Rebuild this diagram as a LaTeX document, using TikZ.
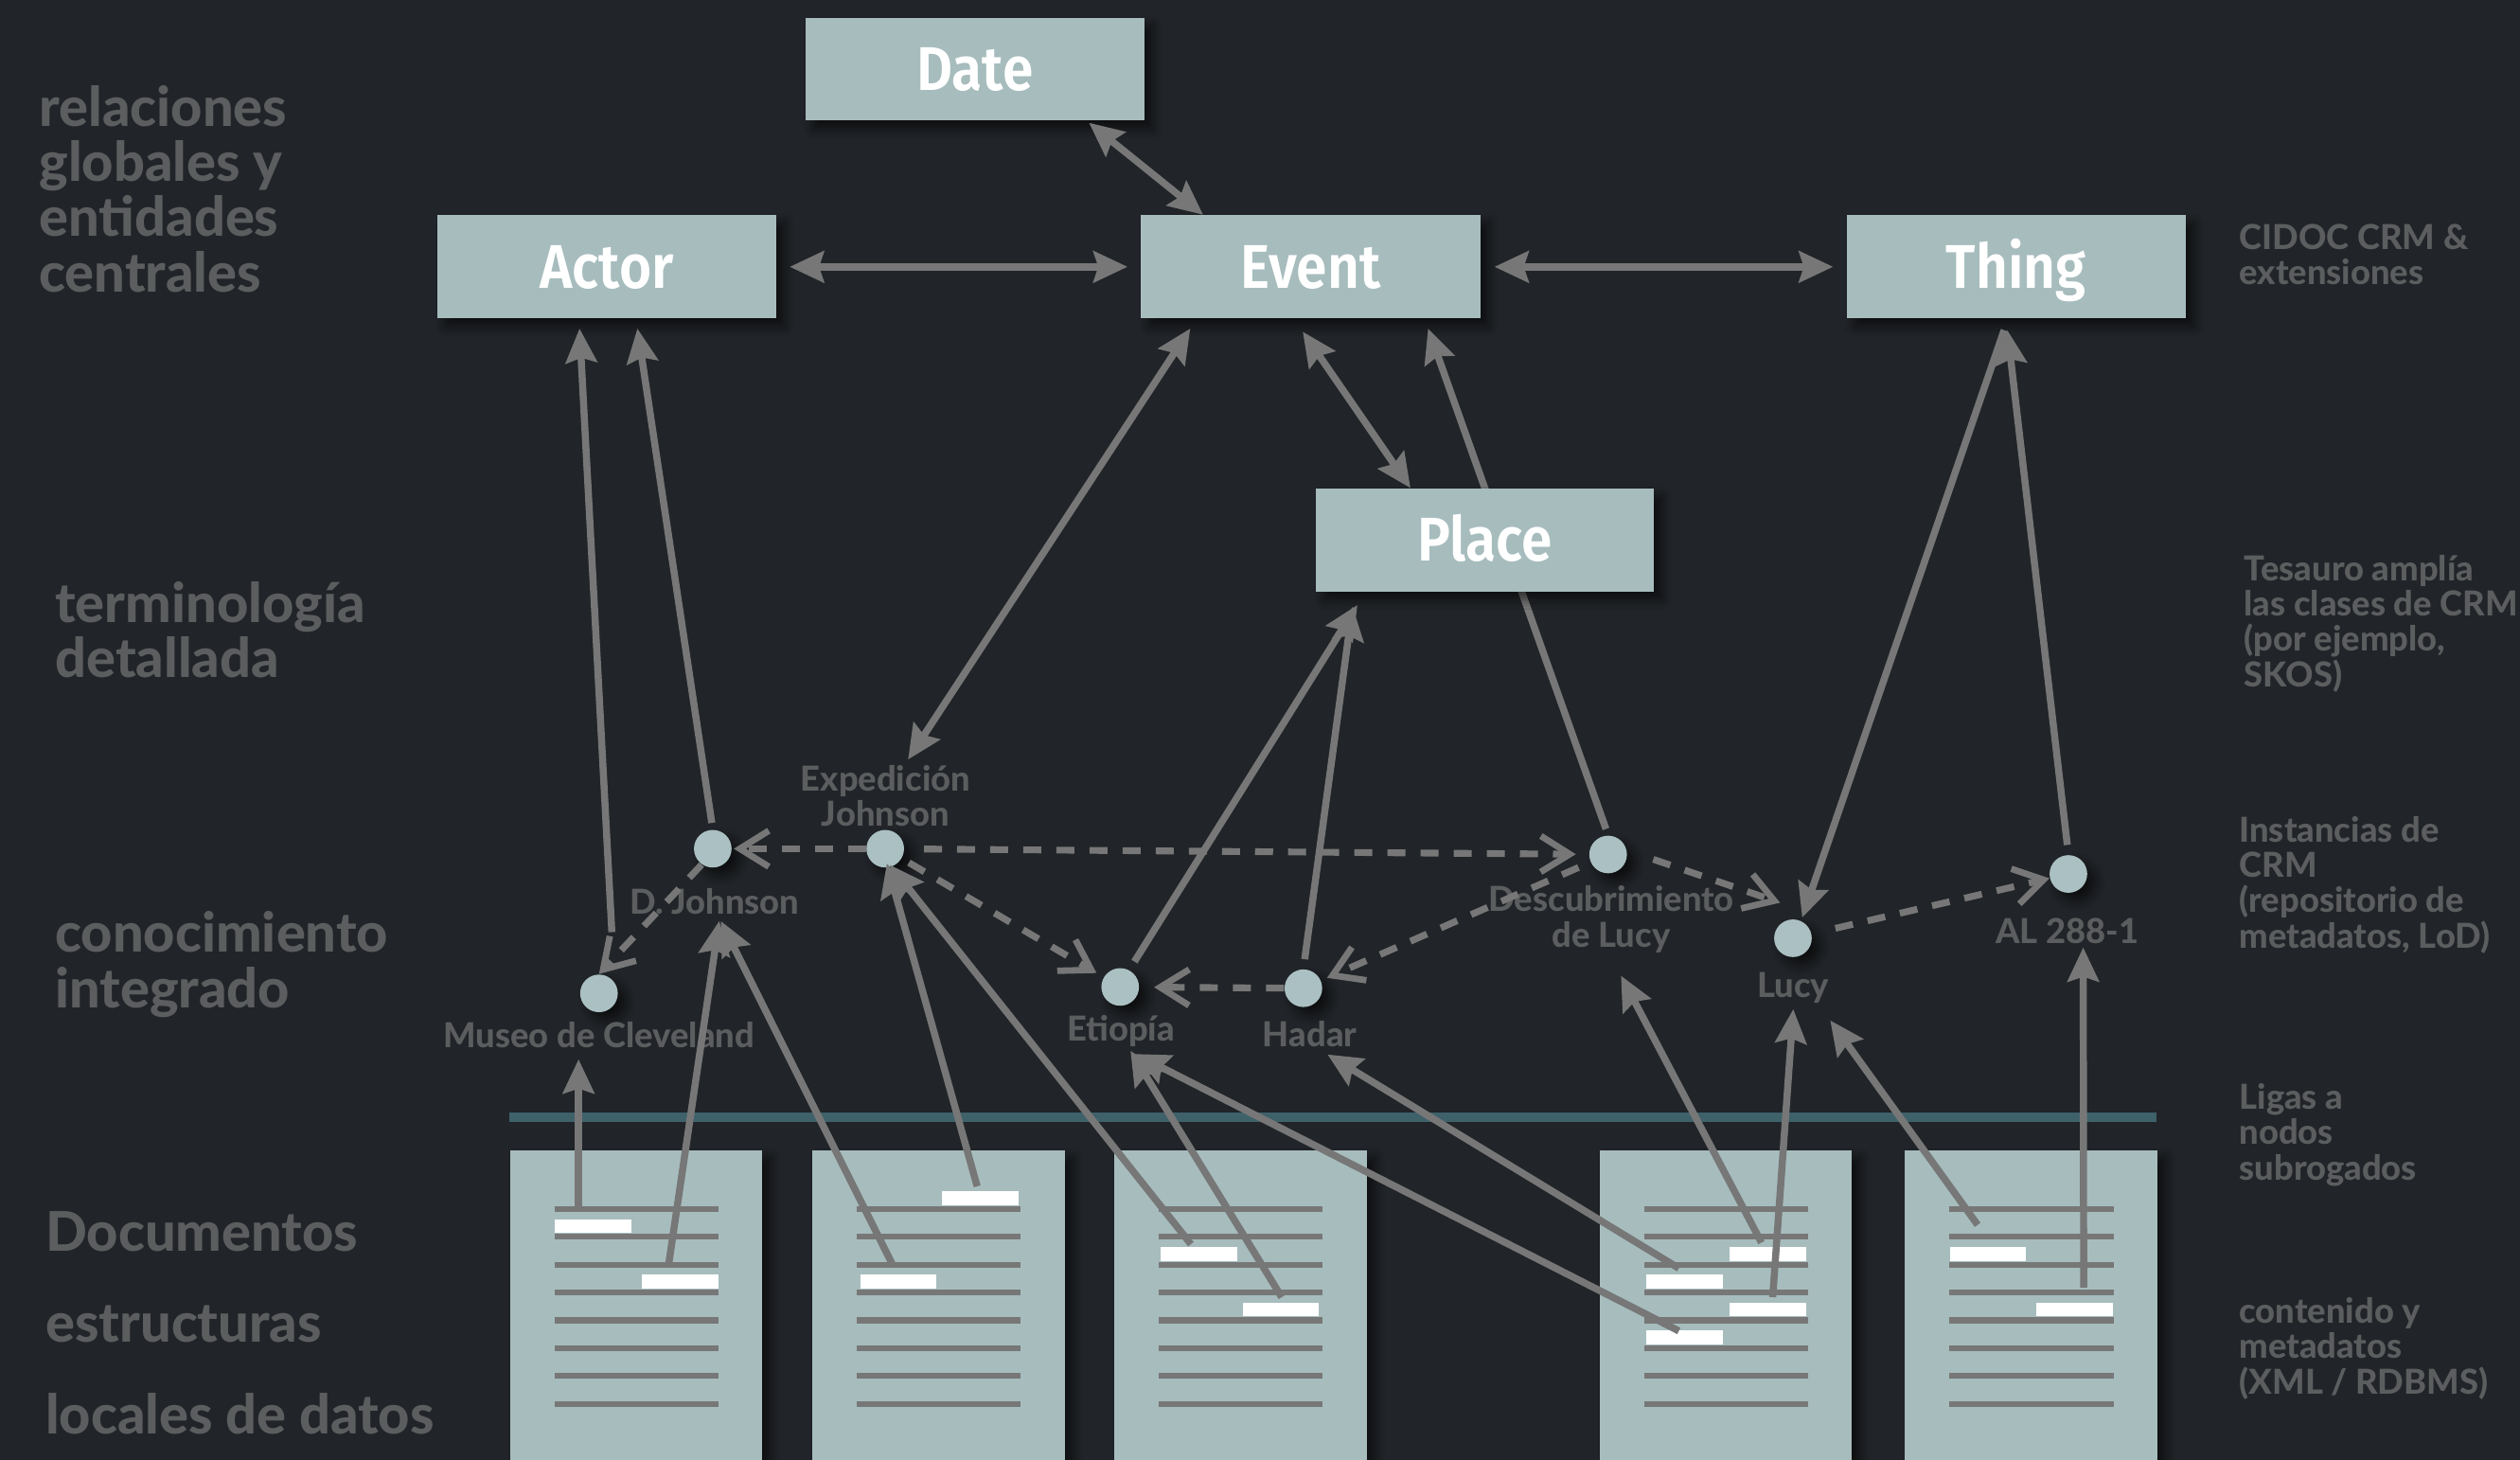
\documentclass[tikz,border=0pt]{standalone}
\usepackage{fontspec}
\setmainfont{Lato}
\newfontfamily\labelfont{Lato Heavy}
\newfontfamily\boxfont[FakeStretch=0.9]{Fira Sans SemiBold}
\usetikzlibrary{arrows.meta,calc,shadows.blur}

\definecolor{bgcol}{HTML}{212428}
\definecolor{boxfill}{HTML}{A7BCBD}
\definecolor{instfill}{HTML}{AAC0C2}
\definecolor{linkgray}{HTML}{777777}
\definecolor{labelgray}{HTML}{5C5D5F}
\definecolor{tealline}{HTML}{3F616A}

\tikzset{
  softshadow/.style={blur shadow={shadow xshift=2.5pt, shadow yshift=-2.5pt,
      shadow blur radius=3pt, shadow opacity=60}},
  classbox/.style={rectangle, fill=boxfill, softshadow, minimum width=105.5pt,
    minimum height=32pt, inner sep=0pt, text=white,
    font=\boxfont\fontsize{19.2}{20}\selectfont, text height=13.2pt, text depth=0pt},
  doc/.style={rectangle, fill=boxfill, softshadow, anchor=north west,
    minimum width=78.5pt, minimum height=96.5pt, inner sep=0pt},
  bar/.style={rectangle, fill=white, minimum width=23.8pt, minimum height=4.3pt, inner sep=0pt},
  inst/.style={circle, fill=instfill, softshadow, minimum size=11.7pt, inner sep=0pt},
  instlabel/.style={text=labelgray, font=\labelfont\fontsize{10.7}{11}\selectfont,
    align=center, inner sep=0pt},
  sidelabel/.style={instlabel, align=left, anchor=west},
  biglabel/.style={text=labelgray, font=\labelfont\fontsize{17}{17.15}\selectfont,
    align=left, anchor=west, inner sep=0pt},
  link/.style={draw=linkgray, line width=2.2pt,
    >={Stealth[length=10.6pt, width=9.7pt, inset=1.5pt]}, ->},
  bilink/.style={link, <->},
  dashlink/.style={draw=linkgray, line width=2.1pt, dash pattern=on 5.6pt off 4.7pt,
    -{Straight Barb[length=9pt, width=11.2pt, line width=2pt]}},
  docline/.style={draw=linkgray, line width=1.8pt},
}

\begin{document}
\begin{tikzpicture}[x=0.5pt, y=-0.5pt]
  \useasboundingbox (0,0) rectangle (1568,908);
  \fill[bgcol] (0,0) rectangle (1568,908);

  % capa de documentos
  \draw[tealline, line width=3.1pt] (317,695) -- (1342,695);
  \node[doc] (doc1) at (317,715) {};
  \node[doc] (doc2) at (505,715) {};
  \node[doc] (doc3) at (693,715) {};
  \node[doc] (doc4) at (995,715) {};
  \node[doc] (doc5) at (1185,715) {};
  \foreach \L in {317,505,693,995,1185}
    \foreach \k in {0,...,7}
      \draw[docline] (\L+28,752.2+17.3*\k) -- (\L+130,752.2+17.3*\k);
  \node[bar] (b1a) at (369,762.7) {};
  \node[bar] (b1b) at (423,797.3) {};
  \node[bar] (b2a) at (610,745.4) {};
  \node[bar] (b2b) at (559,797.3) {};
  \node[bar] (b3a) at (746,780) {};
  \node[bar] (b3b) at (797,814.6) {};
  \node[bar] (b4a) at (1100,780) {};
  \node[bar] (b4b) at (1048,797.3) {};
  \node[bar] (b4c) at (1100,814.6) {};
  \node[bar] (b4d) at (1048,831.9) {};
  \node[bar] (b5a) at (1237,780) {};
  \node[bar] (b5b) at (1291,814.6) {};

  % clases CRM
  \node[classbox] (date) at (606.5,43) {Date};
  \node[classbox] (actor) at (377.5,166) {Actor};
  \node[classbox] (event) at (815.5,166) {Event};
  \node[classbox] (thing) at (1254.5,166) {Thing};

  % instancias
  \node[inst] (djohnson) at (443.5,528) {};
  \node[inst] (expedicion) at (550.8,528) {};
  \node[inst] (museo) at (372.7,618) {};
  \node[inst] (etiopia) at (697,614) {};
  \node[inst] (hadar) at (811,614.8) {};
  \node[inst] (descub) at (1000.6,531.6) {};
  \node[inst] (lucy) at (1115.6,583.7) {};
  \node[inst] (al) at (1287,543.7) {};
  \node[instlabel] (expl) at (551,495) {Expedición\\Johnson};
  \node[instlabel] (djohnsonl) at (444.5,561) {D. Johnson};
  \node[instlabel] (museol) at (372.7,644) {Museo de Cleveland};
  \node[instlabel] (etiopial) at (697.4,641.7) {Etiopía};
  \node[instlabel] (hadarl) at (815,643) {Hadar};
  \node[instlabel] (descubl) at (1002.6,572) {Descubrimiento\\de Lucy};
  \node[instlabel] (lucyl) at (1115.8,614.8) {Lucy};
  \node[instlabel] (all) at (1286.2,579.4) {AL 288-1};

  % textos laterales
  \node[biglabel] (nivel1) at (24,117.5) {relaciones\\globales y\\entidades\\centrales};
  \node[biglabel] (nivel2) at (34,392) {terminología\\detallada};
  \node[biglabel] (nivel3) at (34,600) {conocimiento\\integrado};
  \node[biglabel, font=\labelfont\fontsize{17}{28.5}\selectfont] (nivel4) at (28,823)
    {Documentos\\estructuras\\locales de datos};
  \node[sidelabel] (nota1) at (1393,158.5) {CIDOC CRM \&\\extensiones};
  \node[sidelabel] (nota2) at (1396,388) {Tesauro amplía\\las clases de CRM\\(por ejemplo,\\SKOS)};
  \node[sidelabel] (nota3) at (1393,550.5) {Instancias de\\CRM\\(repositorio de\\metadatos, LoD)};
  \node[sidelabel] (nota4) at (1393,706) {Ligas a\\nodos\\subrogados};
  \node[sidelabel] (nota5) at (1393,839) {contenido y\\metadatos\\(XML / RDBMS)};

  % enlace que pasa por debajo de Place
  \draw[link, shorten <=2pt] (descub.north) -- ($(event.south west)+(179,6)$);
  \node[classbox, minimum width=105pt] (place) at (924,336) {Place};

  % relaciones globales
  \draw[bilink] ($(date.south west)+(177,1)$) -- ($(event.north west)+(39,0)$);
  \draw[bilink] ($(actor.east)+(8,0)$) -- ($(event.west)+(-8,0)$);
  \draw[bilink] ($(event.east)+(8.5,0)$) -- ($(thing.west)+(-8,0)$);
  \draw[bilink] ($(event.south west)+(31,6)$) -- ($(expl.north)+(14,-3)$);
  \draw[bilink] ($(event.south west)+(101,8)$) -- ($(place.north west)+(59,0)$);
  \draw[link] ($(museo.north)+(8,-26)$) -- ($(actor.south west)+(89,6)$);
  \draw[link, shorten <=2pt] (djohnson.north) -- ($(actor.south west)+(125,6)$);
  \draw[link, shorten <=3pt] (etiopia.62) -- ($(place.south west)+(26,8)$);
  \draw[link, shorten <=3pt] (hadar.north) -- ($(place.south west)+(23,9)$);
  \draw[link, shorten >=1pt] ($(thing.south)+(-7.5,7)$) -- (lucy.65);
  \draw[link, shorten <=3pt] (al.north) -- ($(thing.south)+(-5.5,7)$);

  % relaciones entre instancias
  \draw[dashlink] (expedicion.west) -- ($(djohnson.east)+(1,0)$);
  \draw[dashlink] (djohnson.-125) -- (museo.north);
  \draw[dashlink, shorten <=6pt, shorten >=4pt] (expedicion) -- (descub);
  \draw[dashlink, shorten <=2.5pt, shorten >=2.5pt] (expedicion) -- (etiopia);
  \draw[dashlink, shorten >=4.5pt] (hadar) -- (etiopia);
  \draw[dashlink, shorten <=4pt, shorten >=2pt] (descub) -- (hadar);
  \draw[dashlink] ($(descub.east)+(16,3)$) -- ($(lucy.north)+(-8,-10)$);
  \draw[dashlink, shorten <=7.5pt] (lucy) -- (al);

  % ligas desde los documentos
  \coordinate (s1) at (360,751);
  \coordinate (s2) at (416,787);
  \coordinate (s3) at (555,786);
  \coordinate (s4) at (608,738);
  \coordinate (s5) at (741,774);
  \coordinate (s6) at (797.5,807);
  \coordinate (s7) at (1044.6,828);
  \coordinate (s8) at (1044.6,789);
  \coordinate (s9) at (1096,773);
  \coordinate (s10) at (1103,807);
  \coordinate (s11) at (1230.5,762);
  \coordinate (s12) at (1296.5,801);
  \draw[link] (s1) -- ($(museol.center)+(-12.7,15)$);
  \draw[link] (s2) -- ($(djohnsonl.center)+(3,12)$);
  \draw[link] (s3) -- ($(djohnsonl.center)+(4,12)$);
  \draw[link] (s4) -- ($(expedicion.south)+(1,-3)$);
  \draw[link] (s5) -- ($(expedicion.south)+(3,-2)$);
  \draw[link] (s6) -- ($(etiopial.center)+(6,12)$);
  \draw[link] (s7) -- ($(etiopial.center)+(9,14)$);
  \draw[link] (s8) -- ($(hadarl.center)+(11,13)$);
  \draw[link] (s9) -- ($(descubl.center)+(6,35)$);
  \draw[link] (s10) -- ($(lucyl.center)+(0,13)$);
  \draw[link] (s11) -- ($(lucyl.center)+(23,20)$);
  \draw[link] (s12) -- ($(all.center)+(10,10)$);
\end{tikzpicture}
\end{document}
